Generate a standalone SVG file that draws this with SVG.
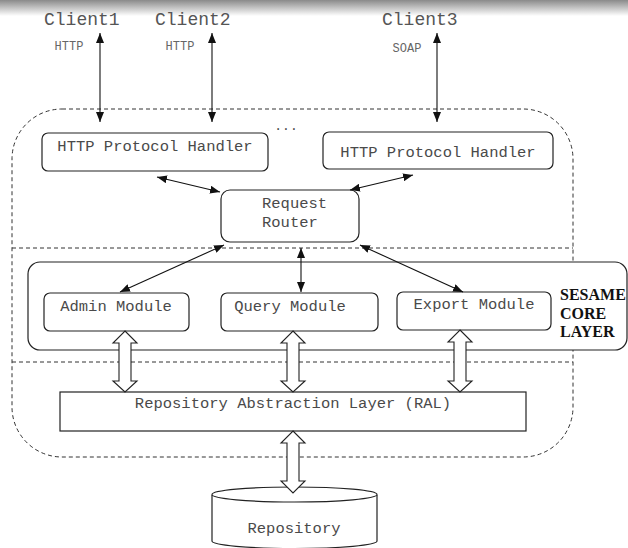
<svg xmlns="http://www.w3.org/2000/svg" width="628" height="548" viewBox="0 0 628 548">
  <defs>
    <linearGradient id="topShade" x1="0" y1="0" x2="0" y2="1">
      <stop offset="0" stop-color="#8a8a8a"/>
      <stop offset="1" stop-color="#ffffff"/>
    </linearGradient>
    <marker id="head" viewBox="0 0 10 8" refX="10" refY="4" markerWidth="10" markerHeight="8" markerUnits="userSpaceOnUse" orient="auto-start-reverse">
      <path d="M0,0 L10,4 L0,8 Z" fill="#111"/>
    </marker>
    <style>
      .mono { font-family: "Liberation Mono", "Courier New", monospace; fill: #4a4a4a; }
      .client { font-size: 18px; fill: #555; }
      .proto { font-size: 12px; fill: #666; }
      .lbl { font-size: 15.5px; }
      .box { fill: #fff; stroke: #222; stroke-width: 1.2; }
      .dash { fill: none; stroke: #333; stroke-width: 1; stroke-dasharray: 4 3; }
      .link { stroke: #111; stroke-width: 1.1; fill: none; marker-start: url(#head); marker-end: url(#head); }
      .block { fill: #fff; stroke: #222; stroke-width: 1.1; stroke-linejoin: miter; }
      .layer { font-family: "Liberation Serif", "Times New Roman", serif; font-weight: bold; font-size: 16px; fill: #111; }
    </style>
  </defs>

  <rect width="628" height="548" fill="#fff"/>
  <rect width="628" height="16" fill="url(#topShade)"/>

  <!-- server boundary and layer separators -->
  <g id="server-boundary">
    <rect class="dash" x="12" y="109" width="561" height="348" rx="50" ry="50"/>
    <line class="dash" x1="12" y1="248" x2="573" y2="248"/>
    <line class="dash" x1="12" y1="362" x2="573" y2="362"/>
  </g>

  <!-- core layer frame -->
  <g id="core-layer">
    <rect class="box" x="28" y="262" width="599" height="88" rx="12" ry="12" fill="none"/>
    <text class="layer" x="560" y="300">SESAME</text>
    <text class="layer" x="560" y="319">CORE</text>
    <text class="layer" x="560" y="337">LAYER</text>
  </g>

  <!-- clients -->
  <g id="client1">
    <text class="mono client" x="44" y="25">Client1</text>
  </g>
  <g id="client2">
    <text class="mono client" x="155" y="25">Client2</text>
  </g>
  <g id="client3">
    <text class="mono client" x="382" y="25">Client3</text>
  </g>

  <!-- protocol handlers -->
  <g id="handler1">
    <rect class="box" x="42" y="133" width="226" height="38" rx="6"/>
    <text class="mono lbl" x="155" y="151" text-anchor="middle">HTTP Protocol Handler</text>
  </g>
  <text class="mono" x="286" y="130" font-size="13" text-anchor="middle">...</text>
  <g id="handler2">
    <rect class="box" x="323" y="132" width="230" height="37" rx="6"/>
    <text class="mono lbl" x="438" y="157" text-anchor="middle">HTTP Protocol Handler</text>
  </g>

  <!-- request router -->
  <g id="router">
    <rect class="box" x="221" y="190" width="138" height="52" rx="9"/>
    <text class="mono lbl" x="262" y="208">Request</text>
    <text class="mono lbl" x="262" y="227">Router</text>
  </g>

  <!-- modules -->
  <g id="admin-module">
    <rect class="box" x="44" y="293" width="145" height="38" rx="6"/>
    <text class="mono lbl" x="116" y="311" text-anchor="middle">Admin Module</text>
  </g>
  <g id="query-module">
    <rect class="box" x="221" y="293" width="157" height="38" rx="6"/>
    <text class="mono lbl" x="290" y="311" text-anchor="middle">Query Module</text>
  </g>
  <g id="export-module">
    <rect class="box" x="397" y="292" width="154" height="38" rx="6"/>
    <text class="mono lbl" x="474" y="309" text-anchor="middle">Export Module</text>
  </g>

  <!-- repository abstraction layer -->
  <g id="ral">
    <rect class="box" x="60" y="392" width="466" height="39"/>
    <text class="mono lbl" x="293" y="408" text-anchor="middle">Repository Abstraction Layer (RAL)</text>
  </g>

  <!-- repository store -->
  <g id="repository">
    <path class="box" d="M212,495 L212,541 A82.5,7.5 0 0 0 377,541 L377,495"/>
    <ellipse class="box" cx="294.5" cy="494.5" rx="82.5" ry="7.5"/>
    <text class="mono lbl" x="294" y="533" text-anchor="middle">Repository</text>
  </g>

  <!-- connectors -->
  <g id="connectors">
    <line class="link" x1="100" y1="33" x2="100" y2="122"/>
    <line class="link" x1="212" y1="33" x2="212" y2="122"/>
    <line class="link" x1="437" y1="33" x2="437" y2="122"/>
    <text class="mono proto" x="69" y="50" text-anchor="middle">HTTP</text>
    <text class="mono proto" x="180" y="50" text-anchor="middle">HTTP</text>
    <text class="mono proto" x="407" y="52" text-anchor="middle">SOAP</text>

    <line class="link" x1="157" y1="177" x2="220" y2="192"/>
    <line class="link" x1="413" y1="175" x2="350" y2="190"/>

    <line class="link" x1="224" y1="245" x2="120" y2="292"/>
    <line class="link" x1="301" y1="248" x2="301" y2="292"/>
    <line class="link" x1="360" y1="245" x2="463" y2="292"/>

    <!-- hollow data-flow arrows -->
    <path class="block" d="M125,331 L137,343 L131,343 L131,381 L137,381 L125,392 L113,381 L119,381 L119,343 L113,343 Z"/>
    <path class="block" d="M293,331 L305,343 L299,343 L299,381 L305,381 L293,392 L281,381 L287,381 L287,343 L281,343 Z"/>
    <path class="block" d="M460,330 L472,342 L466,342 L466,381 L472,381 L460,392 L448,381 L454,381 L454,342 L448,342 Z"/>
    <path class="block" d="M293,431 L305,443 L299,443 L299,481 L305,481 L293,493 L281,481 L287,481 L287,443 L281,443 Z"/>
  </g>
</svg>
